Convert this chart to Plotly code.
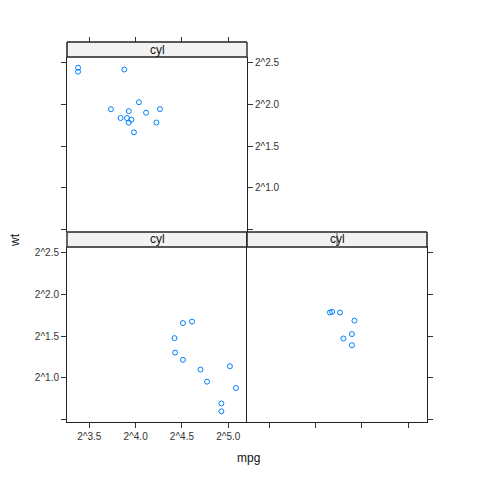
import numpy as np
import plotly.graph_objects as go

# mtcars: mpg and wt by cylinder count
mpg_4 = [22.8, 24.4, 22.8, 32.4, 30.4, 33.9, 21.5, 27.3, 26.0, 30.4, 21.4]
wt_4 = [2.320, 3.190, 3.150, 2.200, 1.615, 1.835, 2.465, 1.935, 2.140, 1.513, 2.780]
mpg_6 = [21.0, 21.0, 21.4, 18.1, 19.2, 17.8, 19.7]
wt_6 = [2.620, 2.875, 3.215, 3.460, 3.440, 3.440, 2.770]
mpg_8 = [18.7, 14.3, 16.4, 17.3, 15.2, 10.4, 10.4, 14.7, 15.5, 15.2, 13.3, 19.2, 15.8, 15.0]
wt_8 = [3.440, 3.570, 4.070, 3.730, 3.780, 5.250, 5.424, 5.345, 3.520, 3.435, 3.840, 3.845, 3.170, 3.570]

x_tickvals = [2 ** 3.5, 2 ** 4.0, 2 ** 4.5, 2 ** 5.0]
x_ticktext = ["2^3.5", "2^4.0", "2^4.5", "2^5.0"]
y_tickvals = [2 ** 0.5, 2 ** 1.0, 2 ** 1.5, 2 ** 2.0, 2 ** 2.5]
y_ticktext = ["", "2^1.0", "2^1.5", "2^2.0", "2^2.5"]
strip_label = "cyl"
x_title = "mpg"
y_title = "wt"

all_x = np.log2(mpg_4 + mpg_6 + mpg_8)
all_y = np.log2(wt_4 + wt_6 + wt_8)


def ext(v):
    lo, hi = v.min(), v.max()
    d = hi - lo
    return [(lo - 0.07 * d) * np.log10(2), (hi + 0.07 * d) * np.log10(2)]


xr = ext(all_x)
yr = ext(all_y)

W = H = 480.0
L, M, R = 67.0, 247.0, 427.0
top_t, top_b = 57.0, 232.0
bot_t, bot_b = 247.0, 422.0
strip_h = 15.0


def fx(p):
    return p / W


def fy(p):
    return 1 - p / H


fig = go.Figure()
mk = dict(symbol="circle-open", size=5, color="#0080ff", line=dict(width=1, color="#0080ff"))
fig.add_trace(go.Scatter(x=mpg_4, y=wt_4, mode="markers", marker=mk, xaxis="x", yaxis="y", showlegend=False))
fig.add_trace(go.Scatter(x=mpg_6, y=wt_6, mode="markers", marker=mk, xaxis="x2", yaxis="y2", showlegend=False))
fig.add_trace(go.Scatter(x=mpg_8, y=wt_8, mode="markers", marker=mk, xaxis="x3", yaxis="y3", showlegend=False))

font = dict(family="Liberation Sans, Arial, sans-serif", size=10, color="#333")
common = dict(type="log", showgrid=False, zeroline=False, ticks="outside", ticklen=5,
              tickcolor="#333", tickfont=font, linecolor="#222", linewidth=1)

fig.update_layout(
    width=480, height=480, margin=dict(l=0, r=0, t=0, b=0), autosize=False,
    paper_bgcolor="white", plot_bgcolor="white",
    xaxis=dict(common, domain=[fx(L), fx(M)], range=xr, anchor="y", tickvals=x_tickvals,
               ticktext=x_ticktext, showline=True, mirror=True),
    yaxis=dict(common, domain=[fy(bot_b), fy(bot_t)], range=yr, anchor="x", tickvals=y_tickvals,
               ticktext=y_ticktext, showline=True, mirror=False),
    xaxis2=dict(common, domain=[fx(M), fx(R)], range=xr, anchor="y2", tickvals=x_tickvals,
                showticklabels=False, showline=True, mirror=True),
    yaxis2=dict(common, domain=[fy(bot_b), fy(bot_t)], range=yr, anchor="x2", side="right",
                tickvals=y_tickvals, showticklabels=False, showline=True, mirror=True),
    xaxis3=dict(common, domain=[fx(L), fx(M)], range=xr, anchor="free", position=fy(top_t - strip_h),
                side="top", tickvals=x_tickvals, showticklabels=False, showline=False),
    yaxis3=dict(common, domain=[fy(top_b), fy(top_t)], range=yr, anchor="x3", side="right",
                tickvals=y_tickvals, ticktext=y_ticktext, showline=True, mirror="ticks"),
)

shapes = []
annotations = []
panels = [("x", "y", 0.0), ("x2", "y2", 0.5), ("x3", "y3", 1.0)]
for xa, ya, lev in panels:
    if ya == "y3":
        pt, pb = top_t, top_b
    else:
        pt, pb = bot_t, bot_b
    ph = pb - pt
    y0 = 1.0
    y1 = 1.0 + strip_h / ph
    shapes.append(dict(type="rect", xref=f"{xa} domain", yref=f"{ya} domain", x0=0, x1=1, y0=y0, y1=y1,
                       fillcolor="#f2f2f2", line=dict(color="#222", width=1), layer="above"))
    shapes.append(dict(type="line", xref=f"{xa} domain", yref=f"{ya} domain", x0=lev, x1=lev, y0=y0, y1=y1,
                       line=dict(color="#a8a8a8", width=2), layer="above"))
    annotations.append(dict(text=strip_label, xref=f"{xa} domain", yref=f"{ya} domain", x=0.5,
                            y=1.0 + strip_h / 2 / ph, showarrow=False, xanchor="center", yanchor="middle",
                            font=dict(family="Liberation Sans, Arial, sans-serif", size=12, color="#111")))
    shapes.append(dict(type="rect", xref=f"{xa} domain", yref=f"{ya} domain", x0=0, x1=1, y0=y0, y1=y1,
                       fillcolor="rgba(0,0,0,0)", line=dict(color="#222", width=1), layer="above"))

annotations.append(dict(text=y_title, xref="paper", yref="paper", x=fx(15), y=fy(240), showarrow=False,
                        textangle=-90, xanchor="center", yanchor="middle",
                        font=dict(family="Liberation Sans, Arial, sans-serif", size=12, color="#111")))
annotations.append(dict(text=x_title, xref="paper", yref="paper", x=fx(248), y=fy(458), showarrow=False,
                        xanchor="center", yanchor="middle",
                        font=dict(family="Liberation Sans, Arial, sans-serif", size=12, color="#111")))
fig.update_layout(shapes=shapes, annotations=annotations)

fig.write_html("out.html")
